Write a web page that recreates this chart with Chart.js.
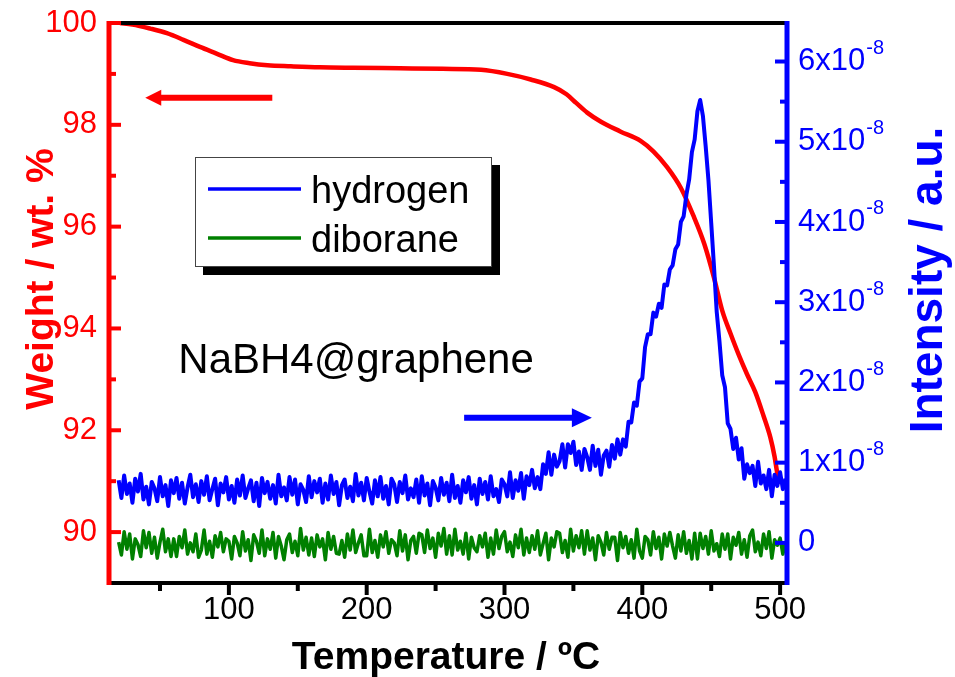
<!DOCTYPE html>
<html>
<head>
<meta charset="utf-8">
<title>NaBH4@graphene TGA-MS</title>
<script src="https://cdn.jsdelivr.net/npm/chart.js@4.4.1/dist/chart.umd.min.js"></script>
<style>
  html, body { margin: 0; padding: 0; background: #ffffff; }
  canvas { display: block; }
</style>
</head>
<body>
<canvas id="tga" width="955" height="677"></canvas>
<script>
// Temperature grid of the mass-spec traces (°C)
const temperature = [
  20,22,24,26,28,30,32,34,36,38,
  40,42,44,46,48,50,52,54,56,58,
  60,62,64,66,68,70,72,74,76,78,
  80,82,84,86,88,90,92,94,96,98,
  100,102,104,106,108,110,112,114,116,118,
  120,122,124,126,128,130,132,134,136,138,
  140,142,144,146,148,150,152,154,156,158,
  160,162,164,166,168,170,172,174,176,178,
  180,182,184,186,188,190,192,194,196,198,
  200,202,204,206,208,210,212,214,216,218,
  220,222,224,226,228,230,232,234,236,238,
  240,242,244,246,248,250,252,254,256,258,
  260,262,264,266,268,270,272,274,276,278,
  280,282,284,286,288,290,292,294,296,298,
  300,302,304,306,308,310,312,314,316,318,
  320,322,324,326,328,330,332,334,336,338,
  340,342,344,346,348,350,352,354,356,358,
  360,362,364,366,368,370,372,374,376,378,
  380,382,384,386,388,390,392,394,396,398,
  400,402,404,406,408,410,412,414,416,418,
  420,422,424,426,428,430,432,434,436,438,
  440,442,444,446,448,450,452,454,456,458,
  460,462,464,466,468,470,472,474,476,478,
  480,482,484,486,488,490,492,494,496,498,
  500,502,504
];

// Hydrogen ion current, in units of 1e-8
const hydrogen = [
  0.78,0.56,0.84,0.61,0.74,0.50,0.80,0.64,0.86,0.54,
  0.70,0.48,0.76,0.68,0.52,0.82,0.58,0.72,0.46,0.78,
  0.62,0.81,0.55,0.75,0.49,0.69,0.85,0.57,0.73,0.51,
  0.77,0.60,0.83,0.53,0.67,0.80,0.47,0.74,0.63,0.82,
  0.54,0.71,0.50,0.79,0.59,0.84,0.56,0.68,0.78,0.52,
  0.75,0.46,0.81,0.62,0.76,0.55,0.72,0.49,0.85,0.58,
  0.69,0.53,0.82,0.60,0.79,0.48,0.73,0.66,0.51,0.83,
  0.57,0.77,0.63,0.80,0.50,0.74,0.54,0.84,0.61,0.76,
  0.47,0.72,0.79,0.56,0.70,0.52,0.86,0.59,0.75,0.53,
  0.81,0.64,0.49,0.78,0.58,0.82,0.55,0.71,0.48,0.80,
  0.73,0.51,0.76,0.62,0.84,0.54,0.68,0.57,0.79,0.50,
  0.83,0.59,0.74,0.47,0.77,0.69,0.53,0.81,0.60,0.75,
  0.52,0.85,0.56,0.71,0.50,0.78,0.63,0.82,0.55,0.72,
  0.48,0.80,0.61,0.76,0.54,0.83,0.58,0.67,0.51,0.79,
  0.73,0.58,0.88,0.56,0.78,0.65,0.87,0.55,0.83,0.72,
  0.91,0.68,0.82,0.67,0.98,0.86,1.13,0.85,1.10,0.95,
  1.02,1.23,0.94,1.23,1.12,1.26,0.97,1.14,0.91,1.17,
  1.07,0.91,1.21,0.96,1.16,0.85,1.09,1.15,0.95,1.22,
  1.05,1.29,1.10,1.29,1.20,1.51,1.50,1.75,1.71,2.01,
  2.05,2.44,2.60,2.60,2.87,2.82,2.98,2.93,3.22,3.21,
  3.41,3.46,3.66,3.72,4.00,4.07,4.34,4.53,4.87,5.03,
  5.38,5.52,5.32,4.94,4.52,3.99,3.45,2.88,2.51,2.09,
  1.94,1.49,1.42,1.17,1.31,1.04,1.18,0.80,0.98,0.87,
  0.96,0.71,1.01,0.74,0.84,0.67,0.91,0.58,0.85,0.71,
  0.88,0.67,0.80
];

// Diborane ion current, in units of 1e-8
const diborane = [
  0.01,-0.15,0.14,-0.08,0.11,-0.20,0.05,-0.02,-0.17,0.15,
  -0.06,0.13,-0.13,0.07,-0.19,0.01,0.17,-0.11,0.05,-0.17,
  0.05,-0.17,0.08,-0.06,0.16,-0.14,0.00,-0.11,0.11,-0.18,
  -0.09,0.16,-0.14,0.02,-0.18,0.09,-0.05,0.13,-0.11,0.05,
  0.02,-0.20,0.08,0.00,-0.16,0.14,-0.10,0.04,-0.22,0.10,
  0.02,-0.13,0.16,-0.16,0.05,-0.08,0.13,-0.19,0.08,-0.04,
  -0.21,0.04,0.11,-0.12,0.02,-0.16,0.18,-0.09,0.07,-0.15,
  0.06,-0.17,0.10,-0.05,0.05,-0.21,0.13,-0.08,0.08,-0.13,
  -0.14,0.03,-0.18,0.11,-0.09,0.16,-0.12,0.00,0.10,-0.16,
  -0.16,0.17,-0.12,0.03,-0.18,0.10,-0.05,0.14,-0.13,0.04,
  0.00,-0.16,0.15,-0.10,0.10,-0.21,0.03,0.08,-0.13,0.12,
  0.10,-0.12,0.16,-0.07,0.06,-0.18,0.12,-0.04,0.18,-0.14,
  0.09,-0.15,0.17,-0.09,0.02,-0.14,0.12,-0.20,0.07,-0.06,
  -0.11,0.09,-0.05,0.12,-0.18,0.06,-0.14,0.16,-0.07,0.08,
  0.14,-0.11,0.01,-0.17,0.10,-0.06,0.17,-0.15,0.06,-0.12,
  0.09,-0.08,0.15,-0.15,-0.01,0.12,-0.21,0.06,-0.05,0.14,
  0.12,-0.12,0.03,-0.18,0.17,-0.10,0.09,-0.06,0.15,-0.14,
  0.15,-0.09,0.06,-0.21,0.09,0.01,-0.15,0.13,-0.08,0.07,
  0.07,-0.22,0.13,-0.06,0.08,-0.13,0.04,-0.19,0.17,-0.10,
  -0.19,0.08,0.04,-0.15,0.14,-0.07,0.07,-0.20,0.11,-0.04,
  0.13,-0.04,-0.19,0.10,-0.10,0.14,-0.13,0.03,-0.20,0.12,
  -0.20,0.12,-0.07,0.08,-0.14,0.15,-0.10,-0.01,-0.17,0.11,
  -0.08,0.11,-0.20,0.07,-0.03,0.13,-0.14,0.04,-0.18,0.09,
  0.16,-0.11,0.01,-0.16,0.11,-0.07,0.14,-0.19,0.04,-0.03,
  0.06,-0.14,0.01
];

// Thermogravimetric curve: temperature (°C) and remaining weight (wt. %)
const tgaTemp = [21,30,43,55,67,79,91,103,115,128,145,166,190,224,255,283,302,319,336,345,352,360,370,384,399,408,418,428,437,445,452,458,464,470,476,482,488,493,496,498,500];
const tgaWeight = [100.00,99.97,99.89,99.80,99.67,99.53,99.40,99.27,99.21,99.17,99.15,99.13,99.12,99.11,99.10,99.08,99.00,98.89,98.74,98.60,98.43,98.24,98.06,97.87,97.68,97.48,97.17,96.76,96.22,95.66,95.00,94.35,93.90,93.48,93.10,92.75,92.28,91.85,91.48,91.15,90.95];

// Tick values
const tempTicks = [100, 200, 300, 400, 500];
const tempMinorTicks = [50, 150, 250, 350, 450];
const weightTicks = [90, 92, 94, 96, 98, 100];
const weightMinorTicks = [91, 93, 95, 97, 99];
const intensityTicks = [0, 1, 2, 3, 4, 5, 6];
const intensityMinorTicks = [0.5, 1.5, 2.5, 3.5, 4.5, 5.5];
const intensityExponent = '-8';

const seriesLabels = ['hydrogen', 'diborane'];
const sampleName = 'NaBH4@graphene';

const RED = '#ff0000';
const BLUE = '#0000ff';
const GREEN = '#008000';
const FONT = "'Liberation Sans', Arial, Helvetica, sans-serif";

function drawLine(ctx, x1, y1, x2, y2, color, width) {
  ctx.beginPath();
  ctx.moveTo(x1, y1);
  ctx.lineTo(x2, y2);
  ctx.strokeStyle = color;
  ctx.lineWidth = width;
  ctx.lineCap = 'butt';
  ctx.stroke();
}

function drawArrow(ctx, xTail, xTip, y, color, headLen, headHalf, width) {
  const dir = Math.sign(xTip - xTail);
  const xBase = xTip - dir * headLen;
  drawLine(ctx, xTail, y, xBase + dir * 1, y, color, width);
  ctx.beginPath();
  ctx.moveTo(xTip, y);
  ctx.lineTo(xBase, y - headHalf);
  ctx.lineTo(xBase, y + headHalf);
  ctx.closePath();
  ctx.fillStyle = color;
  ctx.fill();
}

// Frame, axes, ticks, labels and titles
const axesPlugin = {
  id: 'tgaAxes',
  afterDatasetsDraw(chart) {
    const { ctx, chartArea: a, scales } = chart;
    const xs = scales.x, yw = scales.yWeight, yi = scales.yInt;
    ctx.save();

    // black top frame and temperature axis
    drawLine(ctx, a.left, a.top, a.right, a.top, '#000', 4);
    drawLine(ctx, a.left, a.bottom, a.right, a.bottom, '#000', 4);
    ctx.font = `31px ${FONT}`;
    ctx.fillStyle = '#000';
    ctx.textAlign = 'center';
    ctx.textBaseline = 'middle';
    tempTicks.forEach(v => {
      const px = xs.getPixelForValue(v);
      drawLine(ctx, px, a.bottom, px, a.bottom + 12, '#000', 4);
      ctx.fillText(String(v), px, a.bottom + 27);
    });
    tempMinorTicks.forEach(v => {
      const px = xs.getPixelForValue(v);
      drawLine(ctx, px, a.bottom, px, a.bottom + 8, '#000', 4);
    });

    // red weight axis (left), ticks pointing inward
    drawLine(ctx, a.left, a.top - 2, a.left, a.bottom + 2, RED, 5);
    ctx.font = `31px ${FONT}`;
    ctx.fillStyle = RED;
    ctx.textAlign = 'right';
    weightTicks.forEach(v => {
      const py = yw.getPixelForValue(v);
      drawLine(ctx, a.left, py, a.left + 12, py, RED, 4);
      ctx.fillText(String(v), a.left - 12, py);
    });
    weightMinorTicks.forEach(v => {
      const py = yw.getPixelForValue(v);
      drawLine(ctx, a.left, py, a.left + 7, py, RED, 4);
    });

    // blue intensity axis (right), ticks pointing inward
    drawLine(ctx, a.right, a.top - 2, a.right, a.bottom + 2, BLUE, 5);
    ctx.fillStyle = BLUE;
    ctx.textAlign = 'left';
    intensityTicks.forEach(v => {
      const py = yi.getPixelForValue(v);
      drawLine(ctx, a.right, py, a.right - 12, py, BLUE, 4);
      const x0 = a.right + 11;
      ctx.font = `31px ${FONT}`;
      if (v === 0) {
        ctx.fillText('0', x0, py);
      } else {
        const base = v + 'x10';
        ctx.fillText(base, x0, py);
        const w = ctx.measureText(base).width;
        ctx.font = `20px ${FONT}`;
        ctx.fillText(intensityExponent, x0 + w + 1, py - 13);
      }
    });
    intensityMinorTicks.forEach(v => {
      const py = yi.getPixelForValue(v);
      drawLine(ctx, a.right, py, a.right - 7, py, BLUE, 4);
    });

    // axis titles
    ctx.font = `bold 39px ${FONT}`;
    ctx.fillStyle = '#000';
    ctx.textAlign = 'center';
    ctx.textBaseline = 'alphabetic';
    ctx.fillText('Temperature / ºC', (a.left + a.right) / 2 - 2, a.bottom + 86);

    ctx.save();
    ctx.translate(a.left - 56, 279);
    ctx.rotate(-Math.PI / 2);
    ctx.fillStyle = RED;
    ctx.font = `bold 39px ${FONT}`;
    ctx.fillText('Weight / wt. %', 0, 0);
    ctx.restore();

    ctx.save();
    ctx.translate(a.right + 155, 280);
    ctx.rotate(-Math.PI / 2);
    ctx.fillStyle = BLUE;
    ctx.font = `bold 46px ${FONT}`;
    ctx.fillText('Intensity / a.u.', 0, 0);
    ctx.restore();

    ctx.restore();
  }
};

// Direction arrows, sample name and the boxed legend
const annotationPlugin = {
  id: 'tgaAnnotations',
  afterDraw(chart) {
    const { ctx, chartArea: a, scales } = chart;
    const xs = scales.x, yw = scales.yWeight, yi = scales.yInt;
    ctx.save();

    // arrow pointing to the weight axis
    drawArrow(ctx, xs.getPixelForValue(131.5), xs.getPixelForValue(39.3),
      yw.getPixelForValue(98.53), RED, 16, 8, 6);
    // arrow pointing to the intensity axis
    drawArrow(ctx, xs.getPixelForValue(270.7), xs.getPixelForValue(363.4),
      yi.getPixelForValue(1.56), BLUE, 20, 9.5, 6);

    // sample name
    ctx.font = `42px ${FONT}`;
    ctx.fillStyle = '#000';
    ctx.textAlign = 'left';
    ctx.textBaseline = 'middle';
    ctx.fillText(sampleName, xs.getPixelForValue(63.3), yi.getPixelForValue(2.26));

    // legend box with drop shadow
    const lx = a.left + 86, ly = a.top + 134, lw = 297, lh = 110, sh = 8;
    ctx.fillStyle = '#000';
    ctx.fillRect(lx + sh, ly + sh, lw, lh);
    ctx.fillStyle = '#fff';
    ctx.fillRect(lx, ly, lw, lh);
    ctx.strokeStyle = '#444';
    ctx.lineWidth = 1;
    ctx.strokeRect(lx + 0.5, ly + 0.5, lw - 1, lh - 1);

    const colors = [BLUE, GREEN];
    ctx.font = `38px ${FONT}`;
    ctx.textBaseline = 'alphabetic';
    seriesLabels.forEach((label, i) => {
      const yLine = ly + 32 + i * 49;
      drawLine(ctx, lx + 13, yLine, lx + 106, yLine, colors[i], 3.5);
      ctx.fillStyle = '#000';
      ctx.fillText(label, lx + 116, yLine + 14);
    });

    ctx.restore();
  }
};

const toPoints = (xs, ys) => xs.map((x, i) => ({ x: x, y: ys[i] }));

new Chart(document.getElementById('tga'), {
  type: 'line',
  data: {
    datasets: [
      {
        label: 'hydrogen',
        data: toPoints(temperature, hydrogen),
        yAxisID: 'yInt',
        borderColor: BLUE,
        borderWidth: 4,
        borderJoinStyle: 'round',
        pointRadius: 0,
        tension: 0
      },
      {
        label: 'weight',
        data: toPoints(tgaTemp, tgaWeight),
        yAxisID: 'yWeight',
        borderColor: RED,
        borderWidth: 4.5,
        pointRadius: 0,
        cubicInterpolationMode: 'monotone'
      },
      {
        label: 'diborane',
        data: toPoints(temperature, diborane),
        yAxisID: 'yInt',
        borderColor: GREEN,
        borderWidth: 3.5,
        borderJoinStyle: 'round',
        pointRadius: 0,
        tension: 0
      }
    ]
  },
  options: {
    responsive: false,
    animation: false,
    devicePixelRatio: 1,
    layout: { padding: { left: 109, right: 168, top: 23, bottom: 94 } },
    plugins: { legend: { display: false }, tooltip: { enabled: false } },
    scales: {
      x: { type: 'linear', min: 13, max: 505, display: false },
      yWeight: { type: 'linear', position: 'left', min: 89, max: 100, display: false },
      yInt: { type: 'linear', position: 'right', min: -0.5, max: 6.48, display: false }
    }
  },
  plugins: [axesPlugin, annotationPlugin]
});
</script>
</body>
</html>
